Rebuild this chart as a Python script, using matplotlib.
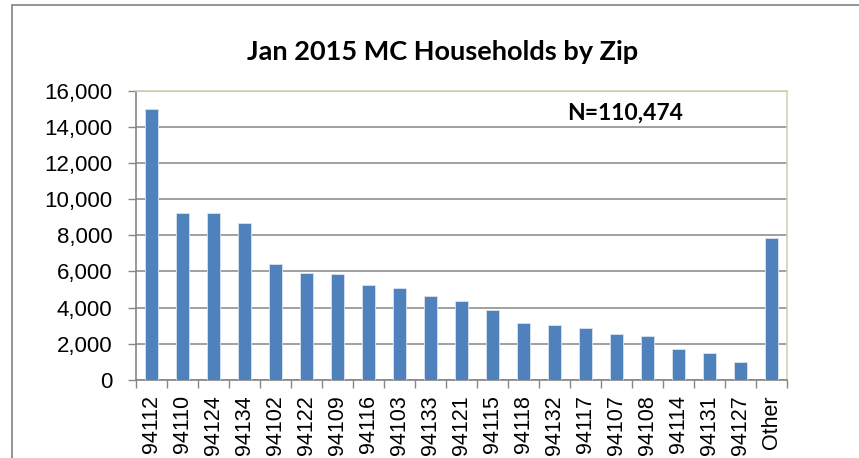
import numpy as np
import matplotlib.pyplot as plt
from matplotlib.patches import Rectangle
from matplotlib.ticker import FuncFormatter

# household counts by zip
zips = ['94112', '94110', '94124', '94134', '94102', '94122', '94109',
        '94116', '94103', '94133', '94121', '94115', '94118', '94132',
        '94117', '94107', '94108', '94114', '94131', '94127', 'Other']
households = [15000, 9250, 9250, 8700, 6400, 5920, 5850,
              5225, 5075, 4620, 4360, 3870, 3160, 3035,
              2850, 2540, 2430, 1690, 1470, 1010, 7870]
y_ticks = [0, 2000, 4000, 6000, 8000, 10000, 12000, 14000, 16000]

plt.rcParams['font.family'] = ['Liberation Sans', 'DejaVu Sans']

fig = plt.figure(figsize=(8.59, 4.58), dpi=100)
ax = fig.add_axes([0.1583, 0.1703, 0.7579, 0.6321])

# outer chart border
fig.patches.append(Rectangle((12 / 859, -0.2), 1.5, 1.2 - 5 / 458,
                             transform=fig.transFigure, fill=False,
                             edgecolor='#8c8c8c', linewidth=1.3, zorder=0))

x = np.arange(len(zips))
ax.bar(x, households, width=0.39, color='#4F81BD', edgecolor='#dbe4f0',
       linewidth=0.6, zorder=3)

ax.set_xlim(-0.5, len(zips) - 0.5)
ax.set_ylim(0, 16000)
ax.set_yticks(y_ticks)
ax.yaxis.set_major_formatter(FuncFormatter(lambda v, p: f'{int(v):,}'))
ax.grid(axis='y', color='#868686', linewidth=1.1, zorder=0)

# ticks between categories, labels under bars
ax.set_xticks(np.arange(-0.5, len(zips), 1.0))
ax.set_xticklabels([])
ax.set_xticks(x, minor=True)
ax.set_xticklabels(zips, minor=True, rotation=90)
ax.tick_params(axis='x', which='major', length=6, color='#868686', width=1)
ax.tick_params(axis='x', which='minor', length=0, pad=11, labelsize=15.5)
ax.tick_params(axis='y', length=6, color='#868686', width=1, labelsize=16, pad=11)

for s in ['left', 'bottom']:
    ax.spines[s].set_color('#868686')
    ax.spines[s].set_linewidth(1.2)
for s in ['top', 'right']:
    ax.spines[s].set_color('#d6d2b5')
    ax.spines[s].set_linewidth(1.2)

fig.text(0.515, 0.886, 'Jan 2015 MC Households by Zip', ha='center',
         va='center', fontsize=19.5, fontweight='bold', family='Lato')
ax.text(0.751, 0.92, 'N=110,474', transform=ax.transAxes, ha='center',
        va='center', fontsize=16.5, fontweight='bold', family='Lato', zorder=5)

fig.savefig('out.png', dpi=100)
